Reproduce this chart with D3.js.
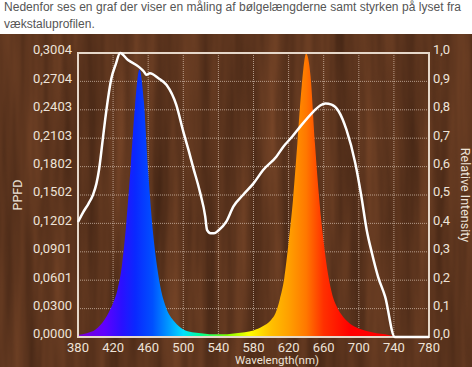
<!DOCTYPE html>
<html>
<head>
<meta charset="utf-8">
<script src="https://cdn.jsdelivr.net/npm/d3@7"></script>
<style>
  body { margin: 0; background: #fff; }
  svg { display: block; }
</style>
</head>
<body>
<svg id="chart" width="472" height="367"></svg>
<script>
// Intro text above the chart
const introLines = [
    'Nedenfor ses en graf der viser en måling af bølgelængderne samt styrken på lyset fra',
    'vækstaluprofilen.'
];

// Axis ticks
const xTicks = [380, 420, 460, 500, 540, 580, 620, 660, 700, 740, 780];
const ppfdTicks = [0.0000, 0.0300, 0.0601, 0.0901, 0.1202, 0.1502, 0.1802, 0.2103, 0.2403, 0.2704, 0.3004];
const relTicks = [0.0, 0.1, 0.2, 0.3, 0.4, 0.5, 0.6, 0.7, 0.8, 0.9, 1.0];

// PPFD spectrum (coloured area)
const ppfdWl = [380, 390, 400, 410, 415, 420, 425, 430, 435, 440, 445, 450, 455, 460, 465, 470, 475, 480, 490, 500,
    510, 520, 530, 540, 550, 560, 570, 580, 590, 600, 605, 610, 615, 620, 625, 630, 635, 640, 645, 650,
    655, 660, 665, 670, 675, 680, 690, 700, 710, 720, 730, 740, 750, 780];
const ppfdVal = [0.002, 0.004, 0.008, 0.018, 0.026, 0.036, 0.050, 0.075, 0.120, 0.180, 0.245, 0.283, 0.250, 0.175, 0.115, 0.075, 0.048, 0.032, 0.016, 0.008,
    0.005, 0.004, 0.003, 0.003, 0.003, 0.004, 0.005, 0.007, 0.011, 0.018, 0.025, 0.040, 0.062, 0.100, 0.145, 0.205, 0.266, 0.300, 0.276, 0.205,
    0.145, 0.100, 0.066, 0.044, 0.032, 0.024, 0.014, 0.009, 0.006, 0.004, 0.003, 0.001, 0, 0];

// Relative intensity (white line)
const relWl = [380, 386, 392, 397, 401, 404, 408, 412, 418, 423, 428, 437, 449, 455, 458, 462, 472, 481, 492, 500,
    506, 511, 519, 525, 527, 531, 535, 540, 549, 557, 568, 580, 591, 606, 614, 624, 633, 648, 656, 662,
    669, 677, 686, 696, 703, 709, 715, 722, 730, 741, 780];
const relVal = [0.405, 0.44, 0.47, 0.50, 0.54, 0.59, 0.69, 0.79, 0.91, 0.96, 1.0, 0.975, 0.952, 0.935, 0.923, 0.929, 0.91, 0.887, 0.817, 0.723,
    0.658, 0.60, 0.51, 0.424, 0.377, 0.365, 0.365, 0.375, 0.406, 0.459, 0.50, 0.541, 0.588, 0.635, 0.67, 0.705, 0.74, 0.793, 0.815, 0.822,
    0.818, 0.795, 0.729, 0.612, 0.494, 0.377, 0.295, 0.212, 0.142, 0, 0];

// Wavelength -> colour stops for the spectrum fill
const spectrumStops = [
    [380, '#7a00d0'], [410, '#6000ff'], [430, '#2a10ff'], [445, '#0a28ff'], [465, '#0050ff'],
    [485, '#00a0ff'], [500, '#00e0ff'], [520, '#00ff90'], [550, '#80ff00'], [575, '#ffff00'],
    [600, '#ffc000'], [620, '#ffa000'], [640, '#ff7800'], [660, '#ff3000'], [690, '#ff0000'], [780, '#ff0000']
];

const svg = d3.select('#chart');
const margin = { top: 53, left: 78 };
const width = 351, height = 284;
const textColor = '#eee3d8';

// Intro text (first line stretched to the width it has in the page)
svg.append('g').selectAll('text')
    .data(introLines)
    .enter()
    .append('text')
    .attr('x', 4)
    .attr('y', (d, i) => 11 + i * 17)
    .attr('textLength', (d, i) => i === 0 ? 457 : null)
    .attr('lengthAdjust', 'spacing')
    .style('font-family', 'Liberation Sans, Arial, sans-serif')
    .style('font-size', '12px')
    .style('fill', '#555')
    .text(d => d);

// Wood background
const defs = svg.append('defs');
const wood = defs.append('filter')
    .attr('id', 'wood')
    .attr('filterUnits', 'userSpaceOnUse')
    .attr('color-interpolation-filters', 'sRGB')
    .attr('x', 0).attr('y', 34).attr('width', 472).attr('height', 333);
wood.append('feTurbulence')
    .attr('type', 'fractalNoise')
    .attr('baseFrequency', '0.06 0.004')
    .attr('numOctaves', 3)
    .attr('seed', 7);
wood.append('feColorMatrix')
    .attr('type', 'matrix')
    .attr('values', '0.24 0 0 0 0.24  0.15 0 0 0 0.13  0.09 0 0 0 0.07  0 0 0 0 1');

svg.append('rect')
    .attr('x', 0).attr('y', 34)
    .attr('width', 472).attr('height', 333)
    .attr('fill', '#573320')
    .attr('filter', 'url(#wood)');

const g = svg.append('g')
    .attr('transform', `translate(${margin.left},${margin.top})`);

// Scales
const x = d3.scaleLinear().domain([380, 780]).range([0, width]);
const yL = d3.scaleLinear().domain([0, 0.3004]).range([height, 0]);
const yR = d3.scaleLinear().domain([0, 1]).range([height, 0]);

// Grid lines (dotted)
g.append('g').selectAll('line')
    .data(ppfdTicks)
    .enter()
    .append('line')
    .attr('x1', 0).attr('x2', width)
    .attr('y1', d => yL(d)).attr('y2', d => yL(d))
    .attr('stroke', 'rgba(255,240,225,0.55)')
    .attr('stroke-width', 1)
    .attr('stroke-dasharray', '1,1');

g.append('g').selectAll('line')
    .data(xTicks)
    .enter()
    .append('line')
    .attr('x1', d => x(d)).attr('x2', d => x(d))
    .attr('y1', 0).attr('y2', height)
    .attr('stroke', 'rgba(255,240,225,0.55)')
    .attr('stroke-width', 1)
    .attr('stroke-dasharray', '1,1');

// Spectrum gradient
const grad = defs.append('linearGradient')
    .attr('id', 'spectrum')
    .attr('gradientUnits', 'userSpaceOnUse')
    .attr('x1', x(380)).attr('x2', x(780))
    .attr('y1', 0).attr('y2', 0);
grad.selectAll('stop')
    .data(spectrumStops)
    .enter()
    .append('stop')
    .attr('offset', d => (d[0] - 380) / 400)
    .attr('stop-color', d => d[1]);

// PPFD area
const ppfdData = ppfdWl.map((w, i) => [w, ppfdVal[i]]);
const area = d3.area()
    .x(d => x(d[0]))
    .y0(height)
    .y1(d => yL(d[1]))
    .curve(d3.curveMonotoneX);

g.append('path')
    .datum(ppfdData)
    .attr('d', area)
    .attr('fill', 'url(#spectrum)');

// Frame
g.append('rect')
    .attr('x', 0).attr('y', 0)
    .attr('width', width).attr('height', height)
    .attr('fill', 'none')
    .attr('stroke', '#e6d8ca')
    .attr('stroke-width', 2);

// Relative intensity line
const relData = relWl.map((w, i) => [w, relVal[i]]);
const line = d3.line()
    .x(d => x(d[0]))
    .y(d => yR(d[1]))
    .curve(d3.curveMonotoneX);

g.append('path')
    .datum(relData)
    .attr('d', line)
    .attr('fill', 'none')
    .attr('stroke', '#ffffff')
    .attr('stroke-width', 2.5)
    .attr('stroke-linejoin', 'round');

// Axes labels
const fmtL = d => d.toFixed(4).replace('.', ',');
const fmtR = d => d.toFixed(1).replace('.', ',');

const axisFont = 'Roboto, sans-serif';

g.append('g').selectAll('text')
    .data(ppfdTicks)
    .enter()
    .append('text')
    .attr('x', -6)
    .attr('y', d => yL(d) - 2)
    .attr('text-anchor', 'end')
    .attr('dominant-baseline', 'middle')
    .style('font-family', axisFont)
    .style('font-size', '13px')
    .style('fill', textColor)
    .text(fmtL);

g.append('g').selectAll('text')
    .data(relTicks)
    .enter()
    .append('text')
    .attr('x', width + 4)
    .attr('y', d => yR(d) - 2)
    .attr('text-anchor', 'start')
    .attr('dominant-baseline', 'middle')
    .style('font-family', axisFont)
    .style('font-size', '13px')
    .style('fill', textColor)
    .text(fmtR);

g.append('g').selectAll('text')
    .data(xTicks)
    .enter()
    .append('text')
    .attr('x', d => x(d))
    .attr('y', height + 15)
    .attr('text-anchor', 'middle')
    .style('font-family', axisFont)
    .style('font-size', '13px')
    .style('fill', textColor)
    .text(d => d);

// Axis titles
g.append('text')
    .attr('x', 199)
    .attr('y', height + 27)
    .attr('text-anchor', 'middle')
    .style('font-family', axisFont)
    .style('font-size', '11.5px')
    .style('fill', textColor)
    .text('Wavelength(nm)');

svg.append('text')
    .attr('transform', `translate(22,${margin.top + height / 2}) rotate(-90)`)
    .attr('text-anchor', 'middle')
    .style('font-family', axisFont)
    .style('font-size', '12.5px')
    .style('fill', textColor)
    .text('PPFD');

svg.append('text')
    .attr('transform', `translate(461,${margin.top + height / 2}) rotate(90)`)
    .attr('text-anchor', 'middle')
    .style('font-family', axisFont)
    .style('font-size', '12.5px')
    .style('fill', textColor)
    .text('Relative Intensity');
</script>
</body>
</html>
